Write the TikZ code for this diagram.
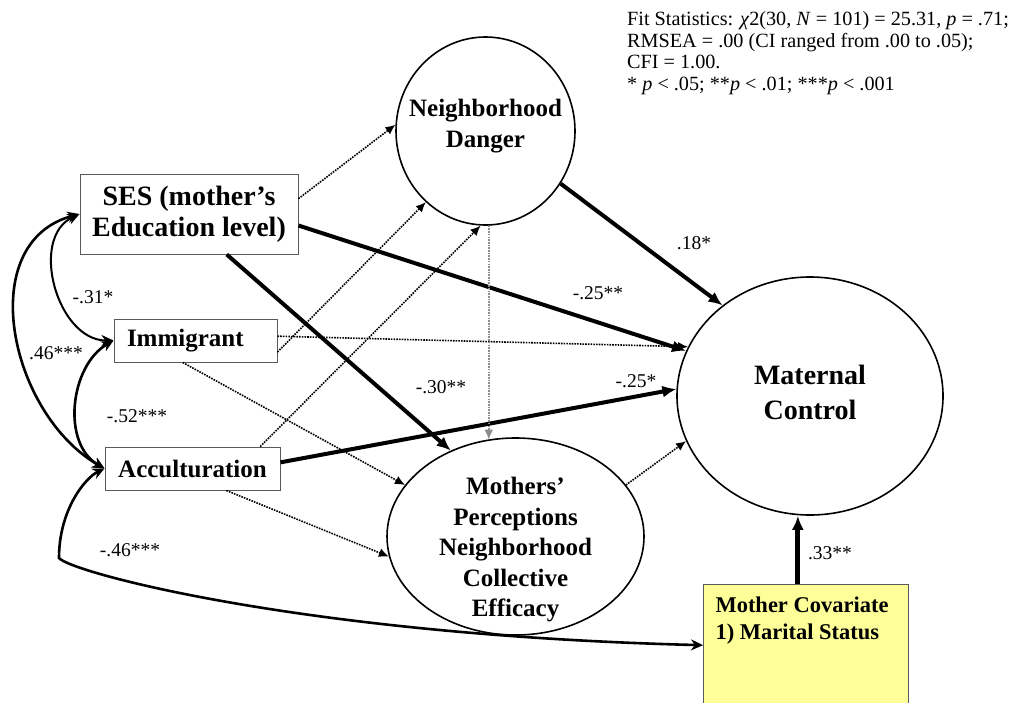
\documentclass[tikz,border=0pt]{standalone}
\usepackage{fontspec}
\setmainfont{Liberation Serif}
\usepackage{xcolor}
\definecolor{covyellow}{RGB}{255,255,153}
\definecolor{boxgray}{RGB}{90,90,90}
\definecolor{pathgray}{RGB}{140,140,140}
\usetikzlibrary{shapes.geometric, arrows.meta, calc}
\tikzset{
  latentvar/.style={draw=black, ellipse, line width=1.6pt, inner sep=0pt},
  latenttext/.style={align=center, font=\bfseries\fontsize{25}{31}\selectfont},
  obsbig/.style={draw=boxgray, line width=1pt, rectangle,
    minimum width=218pt, minimum height=80pt,
    align=center, font=\bfseries\fontsize{28}{31}\selectfont},
  obsbox/.style={draw=boxgray, line width=1pt, rectangle,
    minimum height=43pt, align=center, font=\bfseries\fontsize{25}{30}\selectfont},
  covbox/.style={draw=boxgray, line width=1pt, fill=covyellow,
    anchor=north west, inner sep=12pt, font=\bfseries\fontsize{22.5}{27}\selectfont},
  coef/.style={font=\fontsize{19.5}{22}\selectfont, inner sep=1pt},
  fitnote/.style={font=\fontsize{20.2}{21.8}\selectfont, align=left,
    anchor=north west, inner sep=0pt},
  strongpath/.style={-{Latex[length=14pt,width=12pt]}, line width=4pt},
  weakpath/.style={-{Latex[length=10pt,width=9pt]}, line width=1.6pt,
    dash pattern=on 1.6pt off 1.1pt},
  graypath/.style={weakpath, color=pathgray},
  covpath/.style={{Stealth[length=12pt,width=11pt]}-{Stealth[length=12pt,width=11pt]},
    line width=2.6pt},
  covthin/.style={covpath, line width=2pt}
}

\begin{document}
\begin{tikzpicture}[x=1pt, y=1pt]
  \useasboundingbox (0,0) rectangle (1011,-702);
  \clip (0,0) rectangle (1011,-702);

  % latent variables
  \node[latentvar, minimum width=179pt, minimum height=188pt,
    label={[latenttext, yshift=5pt]center:Neighborhood\\Danger}] (nd) at (485.5,-131) {};
  \node[latentvar, minimum width=266pt, minimum height=238pt,
    label={[latenttext, font=\bfseries\fontsize{28}{35}\selectfont, yshift=4pt]center:Maternal\\Control}] (mc) at (810,-396) {};
  \node[latentvar, minimum width=257pt, minimum height=197pt,
    label={[latenttext, font=\bfseries\fontsize{25}{30.5}\selectfont, yshift=-13.5pt]center:Mothers’\\Perceptions\\Neighborhood\\Collective\\Efficacy}] (mp) at (515.5,-536.5) {};

  % observed variables
  \node[obsbig] (ses) at (189,-214) {SES (mother’s\\Education level)};
  \node[obsbox, minimum width=163pt, text width=137pt, align=left] (imm) at (195.5,-340.5) {Immigrant};
  \node[obsbox, minimum width=175pt] (acc) at (192.5,-468.5) {Acculturation};
  \node[covbox] (mcov) at (703,-584)
    {\parbox[t][130pt][t]{181pt}{Mother Covariate\\1) Marital Status}};

  \node[fitnote] (fit) at (627,-11)
    {Fit Statistics: \textit{χ}2(30, \textit{N} = 101) = 25.31, \textit{p} = .71;\\
     RMSEA = .00 (CI ranged from .00 to .05);\\
     CFI = 1.00.\\{}* \textit{p} < .05; **\textit{p} < .01; ***\textit{p} < .001};

  % significant paths
  \draw[strongpath] (nd.-35) -- (mc.134);
  \draw[strongpath] (ses.-6) -- (mc.160);
  \draw[strongpath] (ses.-47) -- (mp.127);
  \draw[strongpath] (acc.4) -- (mc.177);
  \draw[strongpath, line width=5pt] (mcov.96) -- (mcov.96 |- mc.south);

  % non-significant paths
  \draw[weakpath] (ses.8) -- (nd.176);
  \draw[weakpath] (imm.-8) -- (nd.-130);
  \draw[weakpath] (acc.18) -- (nd.-93);
  \draw[weakpath] (imm.3) -- (mc.158);
  \draw[weakpath] (imm.-120) -- (mp.155);
  \draw[weakpath] (acc.-33) -- (mp.-171);
  \draw[weakpath] (mp.25) -- (mc.200);
  \draw[graypath] (nd.-88) -- (nd.-88 |- mp.106);

  % covariances
  \draw[covthin] (ses.west) to[out=205, in=180, looseness=1.1] (imm.west);
  \draw[covpath] (ses.west) to[out=195, in=150, looseness=1.1] (acc.west);
  \draw[covpath] (imm.west) to[out=210, in=150] (acc.west);
  \draw[covpath] (acc.west) .. controls (85,-478) and (59,-510) .. (59,-558)
    .. controls (70,-572) and (300,-635) .. (mcov.171);

  % coefficients
  \node[coef] (c18) at (694,-243) {.18*};
  \node[coef] (c25a) at (598,-293) {-.25**};
  \node[coef] (c25b) at (636,-381) {-.25*};
  \node[coef] (c30) at (441,-387) {-.30**};
  \node[coef] (c31) at (93,-297) {-.31*};
  \node[coef] (c46a) at (56,-353) {.46***};
  \node[coef] (c52) at (137,-416) {-.52***};
  \node[coef] (c46b) at (130,-550) {-.46***};
  \node[coef] (c33) at (830,-553) {.33**};
\end{tikzpicture}
\end{document}
